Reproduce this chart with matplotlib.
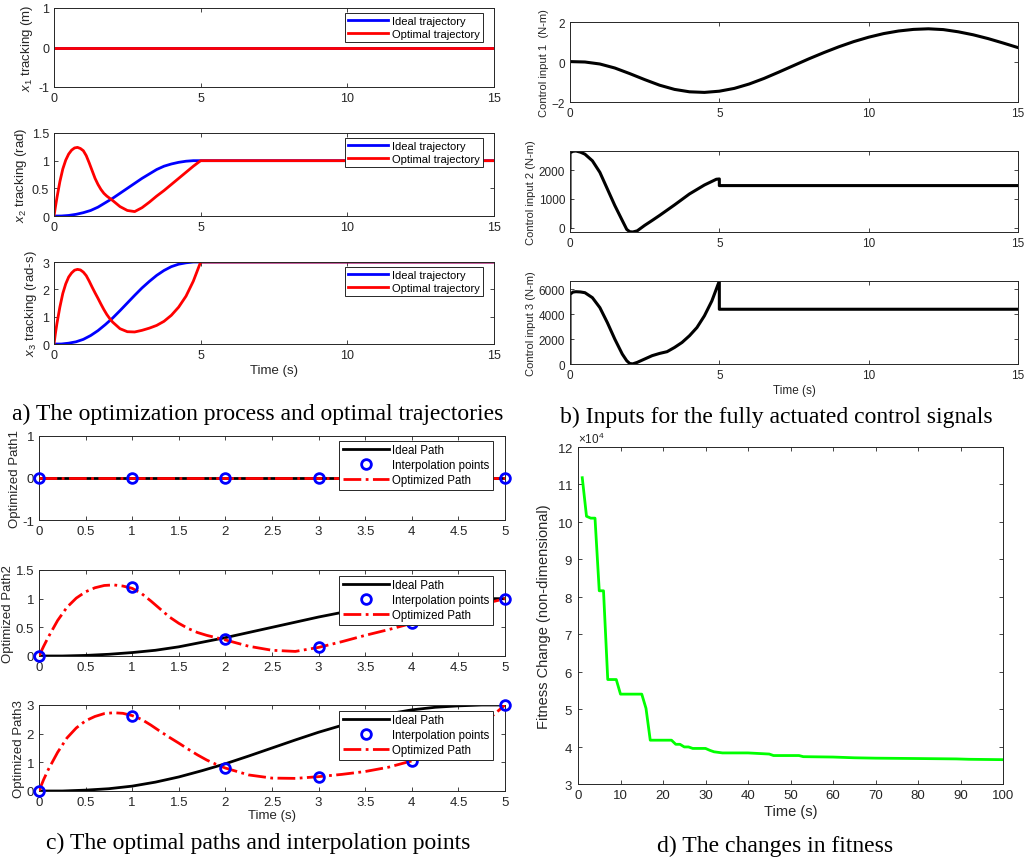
import numpy as np
import matplotlib.pyplot as plt
from matplotlib.ticker import FormatStrFormatter, ScalarFormatter

plt.rcParams['font.family'] = ['Liberation Sans', 'DejaVu Sans']
plt.rcParams['mathtext.fontset'] = 'custom'
plt.rcParams['mathtext.rm'] = 'Liberation Sans'
plt.rcParams['mathtext.it'] = 'Liberation Sans:italic'

# ---- values ----
# ideal (smooth) paths, 0..5 s
ideal_t = [0, 0.25, 0.5, 0.75, 1.0, 1.25, 1.5, 1.75, 2.0, 2.25, 2.5,
           2.75, 3.0, 3.25, 3.5, 3.75, 4.0, 4.25, 4.5, 4.75, 5.0]
ideal_x1 = [0] * 21
ideal_x2 = [0, 0.00, 0.01, 0.03, 0.06, 0.10, 0.16, 0.24, 0.32, 0.41, 0.50,
            0.59, 0.68, 0.76, 0.84, 0.90, 0.94, 0.97, 0.99, 1.00, 1.00]
ideal_x3 = [0, 0.00, 0.03, 0.08, 0.17, 0.31, 0.49, 0.71, 0.95, 1.22, 1.50,
            1.78, 2.05, 2.29, 2.51, 2.69, 2.83, 2.92, 2.97, 3.00, 3.00]

# optimized paths, 0..5 s
opt_t = [0, 0.05, 0.1, 0.2, 0.3, 0.4, 0.5, 0.6, 0.7, 0.8, 0.9, 1.0, 1.1,
         1.2, 1.3, 1.4, 1.5, 1.6, 1.7, 1.8, 1.9, 2.0, 2.25, 2.5, 2.75, 3.0,
         3.25, 3.5, 3.75, 4.0, 4.25, 4.5, 4.75, 5.0]
opt_x1 = [0] * 34
opt_x2 = [0, 0.17, 0.33, 0.62, 0.85, 1.01, 1.12, 1.19, 1.23, 1.24, 1.22,
          1.18, 1.09, 0.96, 0.82, 0.68, 0.57, 0.48, 0.41, 0.36, 0.32, 0.28,
          0.17, 0.10, 0.08, 0.15, 0.25, 0.36, 0.46, 0.57, 0.68, 0.79, 0.90,
          1.00]
opt_x3 = [0, 0.40, 0.75, 1.35, 1.85, 2.20, 2.45, 2.60, 2.70, 2.73, 2.71,
          2.63, 2.50, 2.30, 2.08, 1.87, 1.67, 1.46, 1.26, 1.08, 0.93, 0.80,
          0.56, 0.45, 0.44, 0.50, 0.58, 0.68, 0.83, 1.05, 1.35, 1.75, 2.30,
          3.00]

# interpolation points
knot_t = [0, 1, 2, 3, 4, 5]
knot_x1 = [0, 0, 0, 0, 0, 0]
knot_x2 = [0, 1.20, 0.30, 0.15, 0.57, 1.00]
knot_x3 = [0, 2.63, 0.80, 0.50, 1.05, 3.00]

# control inputs (N-m)
u1_t = [0, 0.5, 1, 1.5, 2, 2.5, 3, 3.5, 4, 4.5, 5, 5.5, 6, 6.5, 7, 7.5,
        8, 8.5, 9, 9.5, 10, 10.5, 11, 11.5, 12, 12.5, 13, 13.5, 14, 14.5, 15]
u1 = [0.02, 0.0, -0.1, -0.3, -0.58, -0.88, -1.16, -1.37, -1.49, -1.52, -1.46,
      -1.32, -1.1, -0.82, -0.5, -0.17, 0.16, 0.47, 0.76, 1.02, 1.24, 1.42,
      1.55, 1.63, 1.66, 1.62, 1.51, 1.36, 1.17, 0.95, 0.72]
u2_t = [0, 0, 0.1, 0.2, 0.35, 0.5, 0.75, 1.0, 1.25, 1.5, 1.75, 1.9, 2.0,
        2.1, 2.25, 2.5, 2.75, 3.0, 3.5, 4.0, 4.5, 4.9, 5.0, 5.0, 15]
u2 = [0, 2600, 2650, 2660, 2620, 2550, 2320, 1920, 1345, 770, 250, -60,
      -140, -150, -110, 80, 250, 425, 790, 1170, 1480, 1680, 1690, 1460, 1460]
u3_t = [0, 0, 0.1, 0.2, 0.35, 0.5, 0.75, 1.0, 1.25, 1.5, 1.75, 1.9, 2.0,
        2.1, 2.25, 2.5, 2.75, 3.0, 3.25, 3.5, 3.75, 4.0, 4.25, 4.5, 4.75,
        5.0, 5.0, 15]
u3 = [0, 5600, 5780, 5810, 5790, 5730, 5330, 4530, 3330, 2000, 800, 260,
      40, 10, 130, 400, 670, 850, 990, 1330, 1730, 2270, 2930, 3870, 5070,
      6670, 4400, 4400]

# fitness per generation (breakpoints)
gen = [1, 2, 3, 4, 5, 6, 7, 9, 10, 15, 16, 17, 22, 23, 24, 25, 26, 27, 30,
       31, 32, 34, 40, 45, 46, 52, 53, 60, 65, 70, 80, 89, 92, 100]
fitness = [111800, 101500, 101000, 101000, 81600, 81600, 57900, 57900,
           54000, 54000, 50200, 41700, 41700, 40600, 40600, 39900, 39900,
           39500, 39500, 39000, 38600, 38300, 38300, 38000, 37600, 37600,
           37300, 37200, 37000, 36900, 36800, 36700, 36600, 36500]

captions = ["a) The optimization process and optimal trajectories",
            "b) Inputs for the fully actuated control signals",
            "c) The optimal paths and interpolation points",
            "d) The changes in fitness"]

W, H = 1033, 862
fig = plt.figure(figsize=(W / 100, H / 100), dpi=100)
GREY = '#262626'


def add_ax(l, t, r, b):
    return fig.add_axes([l / W, 1 - b / H, (r - l) / W, (b - t) / H])


def style(ax, fs):
    ax.tick_params(direction='in', top=True, right=True, labelsize=fs,
                   colors=GREY, length=3, width=0.6)
    for s in ax.spines.values():
        s.set_color(GREY)
        s.set_linewidth(0.7)


def legend(ax, fs, anchor, hl=4.2):
    lg = ax.legend(loc='upper right', bbox_to_anchor=anchor, fontsize=fs,
                   fancybox=False, framealpha=1, edgecolor=GREY,
                   handlelength=hl, borderaxespad=0, borderpad=0.3,
                   labelspacing=0.25, handletextpad=0.3)
    lg.get_frame().set_linewidth(0.7)


# ---- a) tracking ----
a_rows = [(9, 88, ideal_x1, opt_x1, (-1, 1), [-1, 0, 1], r'$x_1$ tracking (m)'),
          (134, 217, ideal_x2, opt_x2, (0, 1.5), [0, 0.5, 1, 1.5], r'$x_2$ tracking (rad)'),
          (263, 345, ideal_x3, opt_x3, (0, 3), [0, 1, 2, 3], r'$x_3$ tracking (rad-s)')]
for i, (t, b, yi, yo, yl, yt, lab) in enumerate(a_rows):
    ax = add_ax(54, t, 494, b)
    ax.plot(ideal_t + [15], yi + [yi[-1]], color='b', lw=2, label='Ideal trajectory')
    ax.plot(opt_t + [15], yo + [yo[-1]], color='r', lw=2, label='Optimal trajectory')
    ax.set_xlim(0, 15)
    ax.set_ylim(*yl)
    ax.set_xticks([0, 5, 10, 15])
    ax.set_yticks(yt)
    ax.yaxis.set_major_formatter(FormatStrFormatter('%g'))
    ax.set_ylabel(lab, fontsize=9.5, color=GREY, labelpad=2)
    style(ax, 9)
    legend(ax, 8, (1 - 11 / 440, 1 - 5 / (b - t)), hl=3.6)
    if i == 2:
        ax.set_xlabel('Time (s)', fontsize=9.5, color=GREY, labelpad=2)

# ---- b) control inputs ----
b_rows = [(23, 103, u1_t, u1, (-2, 2), [-2, 0, 2], 'Control input 1  (N-m)'),
          (152, 233, u2_t, u2, (min(u2), max(u2)), [0, 1000, 2000], 'Control input 2 (N-m)'),
          (282, 365, u3_t, u3, (min(u3), max(u3)), [0, 2000, 4000, 6000], 'Control input 3 (N-m)')]
for i, (t, b, x, y, yl, yt, lab) in enumerate(b_rows):
    ax = add_ax(570, t, 1018, b)
    ax.plot(x, y, color='k', lw=2.2)
    ax.set_xlim(0, 15)
    ax.set_ylim(*yl)
    ax.set_xticks([0, 5, 10, 15])
    ax.set_yticks(yt)
    ax.set_ylabel(lab, fontsize=8, color=GREY, labelpad=2)
    style(ax, 8.5)
    if i == 2:
        ax.set_xlabel('Time (s)', fontsize=8.5, color=GREY, labelpad=2)

# ---- c) paths and interpolation points ----
c_rows = [(437, 521, ideal_x1, knot_x1, opt_x1, (-1, 1), [-1, 0, 1], 'Optimized Path1', 5),
          (571, 657, ideal_x2, knot_x2, opt_x2, (0, 1.5), [0, 0.5, 1, 1.5], 'Optimized Path2', 6),
          (706, 792, ideal_x3, knot_x3, opt_x3, (0, 3), [0, 1, 2, 3], 'Optimized Path3', 6)]
for i, (t, b, yi, yk, yo, yl, yt, lab, off) in enumerate(c_rows):
    ax = add_ax(39, t, 505, b)
    ax.plot(ideal_t, yi, color='k', lw=2, label='Ideal Path')
    ax.plot(knot_t, yk, 'o', mfc='none', mec='b', mew=2, ms=7,
            label='Interpolation points', zorder=4, clip_on=False)
    ax.plot(opt_t, yo, color='r', lw=2, ls='-.', label='Optimized Path', zorder=3)
    ax.set_xlim(0, 5)
    ax.set_ylim(*yl)
    ax.set_xticks(np.arange(0, 5.01, 0.5))
    ax.set_yticks(yt)
    ax.xaxis.set_major_formatter(FormatStrFormatter('%g'))
    ax.yaxis.set_major_formatter(FormatStrFormatter('%g'))
    ax.set_ylabel(lab, fontsize=9.5, color=GREY, labelpad=1)
    style(ax, 9.5)
    legend(ax, 8.3, (1 - 12 / 466, 1 - off / (b - t)), hl=4.0)
    if i == 2:
        ax.set_xlabel('Time (s)', fontsize=9.5, color=GREY, labelpad=1)

# ---- d) fitness ----
ax = add_ax(578, 448, 1003, 785)
ax.plot(gen, fitness, color=(0, 1, 0), lw=2)
ax.set_xlim(0, 100)
ax.set_ylim(30000, 120000)
ax.set_xticks(np.arange(0, 101, 10))
ax.set_yticks(np.arange(30000, 120001, 10000))
fmt = ScalarFormatter(useMathText=True)
fmt.set_powerlimits((4, 4))
ax.yaxis.set_major_formatter(fmt)
ax.yaxis.get_offset_text().set_fontsize(8.5)
ax.yaxis.get_offset_text().set_color(GREY)
ax.set_ylabel('Fitness Change (non-dimensional)', fontsize=10.5, color=GREY)
ax.set_xlabel('Time (s)', fontsize=10.5, color=GREY, labelpad=2)
style(ax, 9.5)

# ---- captions ----
cap_pos = [(258, 414), (776, 417), (258, 843), (775, 846)]
for txt, (x, y) in zip(captions, cap_pos):
    fig.text(x / W, 1 - y / H, txt, ha='center', va='center',
             family=['Liberation Serif', 'DejaVu Serif'], fontsize=17)

fig.savefig('out.png', dpi=100)
